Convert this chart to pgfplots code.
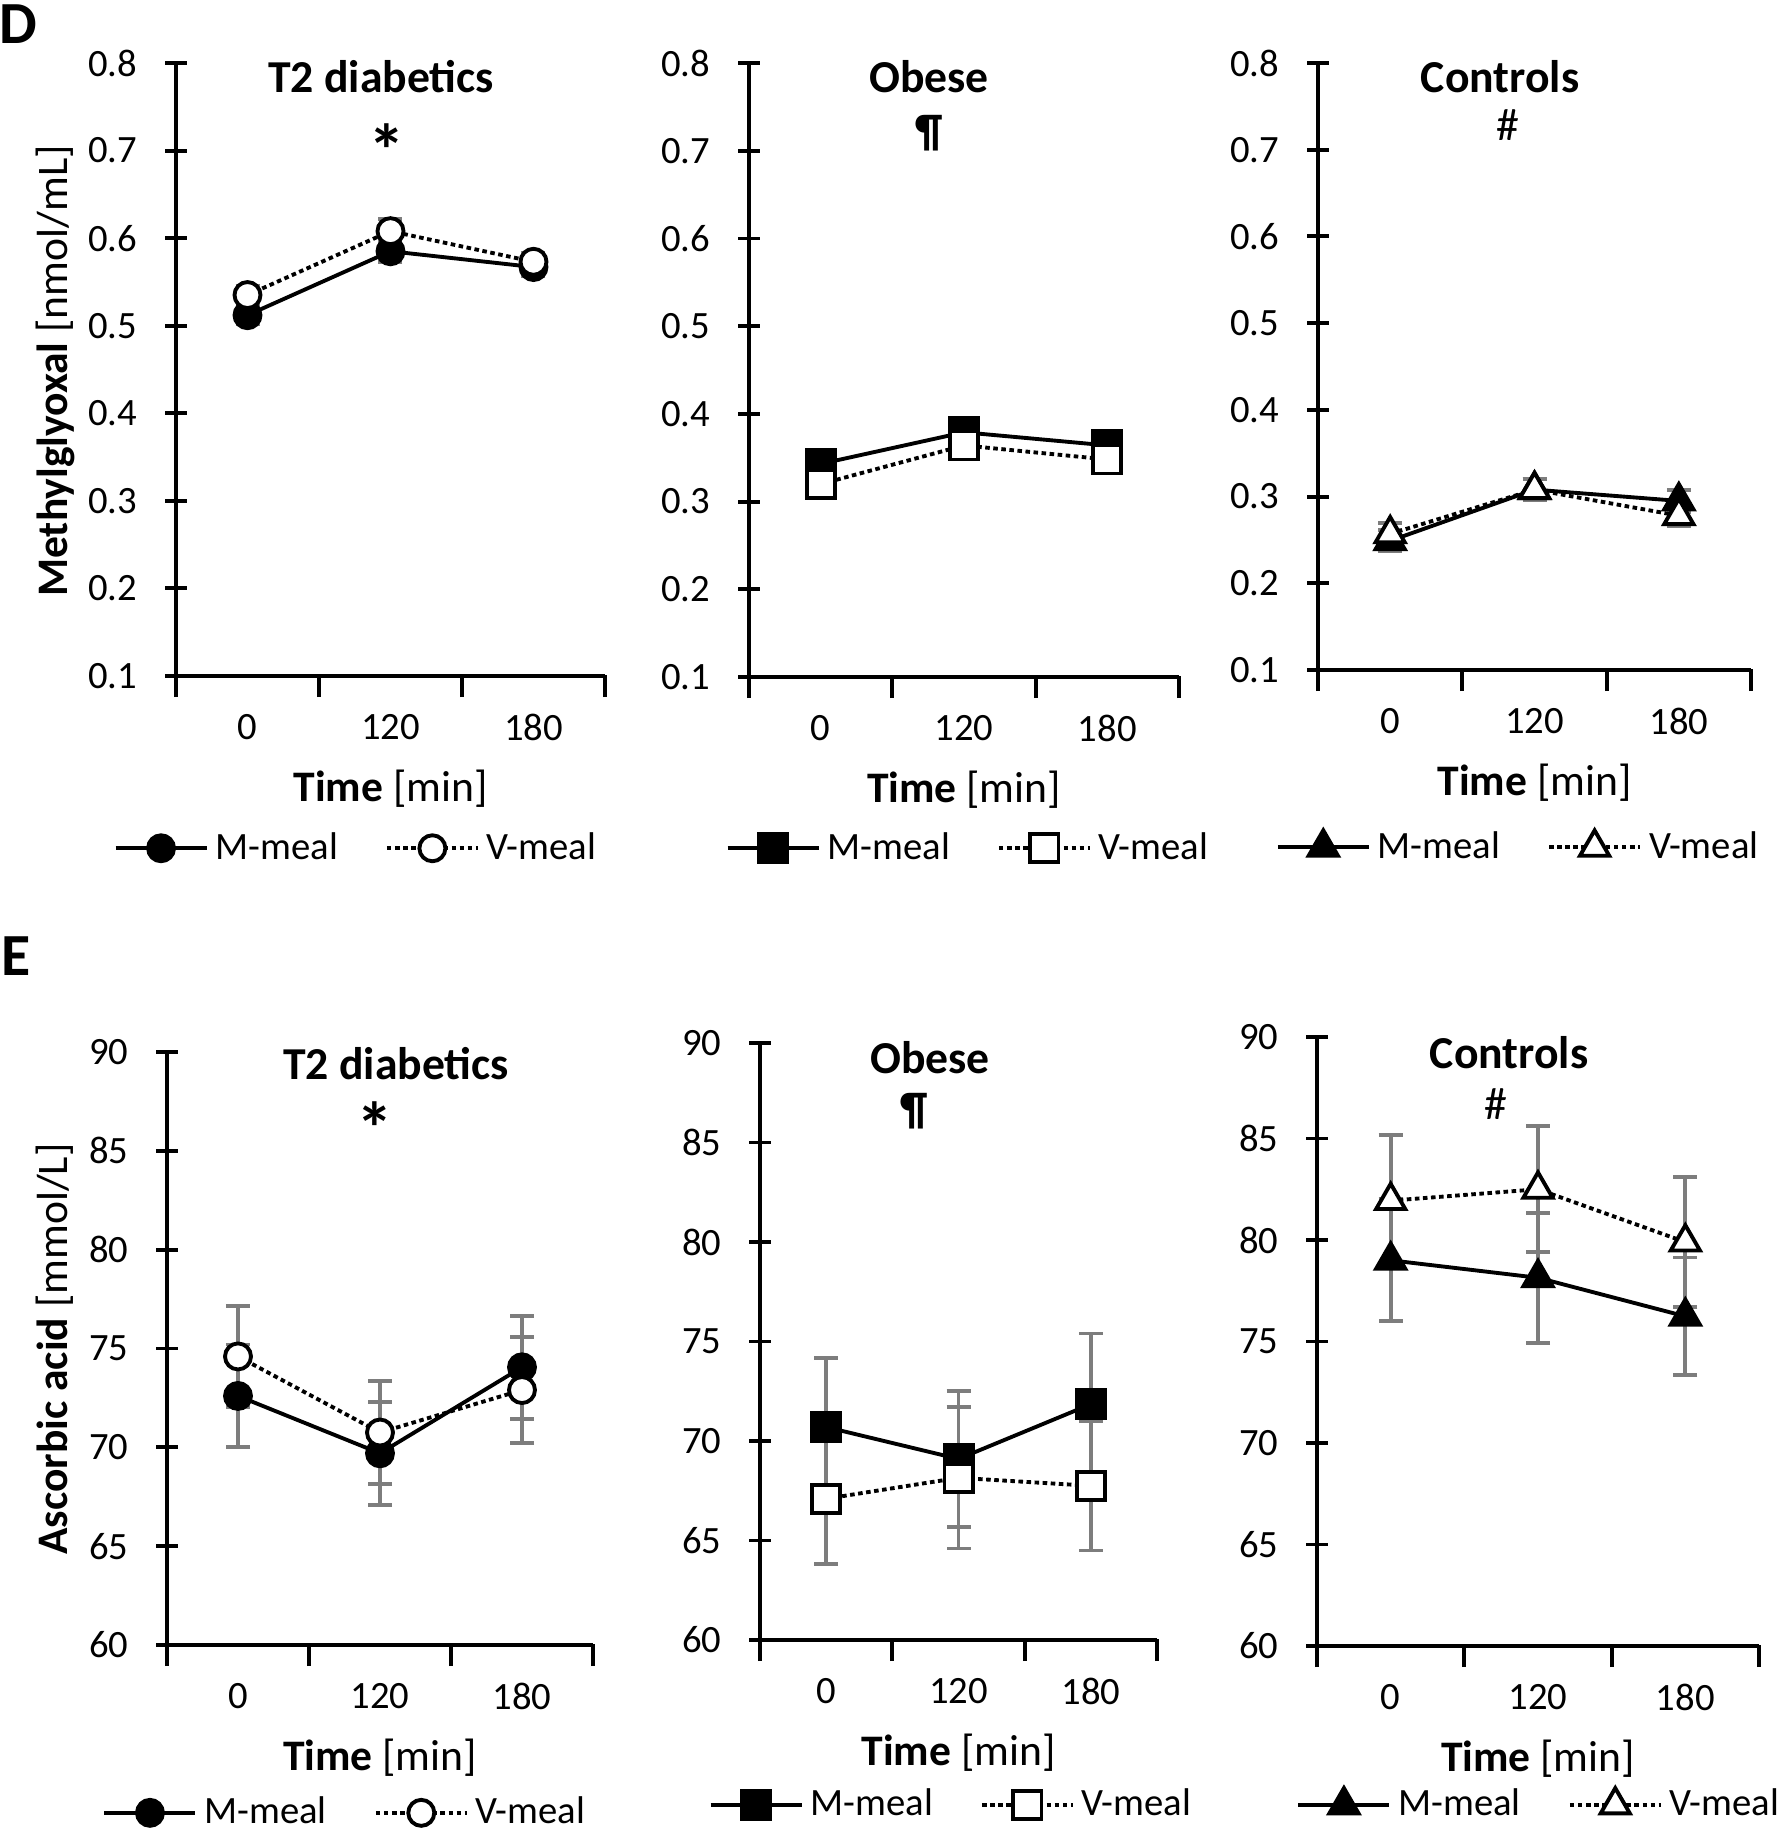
\documentclass[border=0pt]{standalone}
\usepackage{fontspec}
\setmainfont{Carlito}
\usepackage{pgfplots}
\pgfplotsset{compat=1.18}

\definecolor{ebgray}{RGB}{125,125,125}
\newcommand{\tickfont}{\fontsize{11}{13}\selectfont}
\newcommand{\titlefont}{\bfseries\fontsize{13}{15}\selectfont}
\newcommand{\starfont}{\bfseries\fontsize{21}{23}\selectfont}
\newcommand{\labfont}{\fontsize{12.4}{14}\selectfont}

\pgfplotsset{
  panel/.style={
    scale only axis,
    anchor=south west,
    xmin=-0.5, xmax=2.5,
    axis x line=bottom, axis y line=left,
    axis line style={-, line width=1.1pt},
    tick align=center,
    major tick length=2.2mm,
    tick style={black, line width=1.1pt},
    xtick={-0.5,0.5,1.5,2.5},
    xticklabels={},
    xtick style={yshift=-1.0mm},
    extra x ticks={0,1,2},
    extra x tick labels={0,120,180},
    extra x tick style={major tick length=0pt},
    xticklabel style={anchor=center, yshift=-5.1mm},
    yticklabel style={anchor=east, inner sep=0pt, xshift=-2.7mm},
    ticklabel style={font=\tickfont},
    /pgf/number format/assume math mode=true,
    xlabel={\textbf{Time} [min]},
    xlabel style={font=\labfont, at={(axis description cs:0.5,0)}, anchor=center, yshift=-11.3mm},
    clip=false,
    legend columns=2,
    legend cell align=left,
    legend style={draw=none, fill=none, anchor=west, inner sep=0pt, font=\tickfont,
      /tikz/every even column/.append style={column sep=4mm}},
    legend image code/.code={\draw[mark repeat=2,mark phase=2,##1] plot coordinates {(0mm,0mm) (4.55mm,0mm) (9.1mm,0mm)};},
  },
  mgo/.style={ymin=0.1, ymax=0.8, ytick={0.1,0.2,0.3,0.4,0.5,0.6,0.7,0.8},
    yticklabel style={/pgf/number format/.cd, fixed, fixed zerofill, precision=1}},
  asc/.style={ymin=60, ymax=90, ytick={60,65,70,75,80,85,90}},
  ebar/.style={forget plot, only marks, mark=none,
    error bars/.cd, y dir=both, y explicit,
    error bar style={ebgray, line width=1.1pt, solid},
    error mark options={rotate=90, ebgray, line width=1.1pt, mark size=1.2mm}},
  mm/.style={black, line width=1.1pt, solid, mark options={solid, fill=black}},
  vm/.style={black, line width=1.1pt, dash pattern=on 1.3pt off 1pt, mark options={solid, fill=white}},
}

\begin{document}
\begin{tikzpicture}
\useasboundingbox (0,0) rectangle (177.6mm,-183.4mm);

% ---------- D: methylglyoxal ----------
\begin{axis}[panel, mgo, at={(17.6mm,-67.6mm)}, width=42.9mm, height=61.3mm,
  legend style={at={(-0.147,-0.281)}}]
\addplot[ebar] coordinates {(0,0.512) +- (0,0.010) (1,0.585) +- (0,0.012) (2,0.567) +- (0,0.010)};
\addplot[ebar] coordinates {(0,0.535) +- (0,0.010) (1,0.608) +- (0,0.014) (2,0.573) +- (0,0.010)};
\addplot[mm, mark=*, mark size=3.7pt] coordinates {(0,0.512) (1,0.585) (2,0.567)};
\addplot[vm, mark=*, mark size=3.7pt] coordinates {(0,0.535) (1,0.608) (2,0.573)};
\legend{M-meal, V-meal}
\end{axis}

\begin{axis}[panel, mgo, at={(74.9mm,-67.7mm)}, width=43.0mm, height=61.4mm,
  legend style={at={(-0.056,-0.279)}}]
\addplot[ebar] coordinates {(0,0.343) +- (0,0.012) (1,0.379) +- (0,0.015) (2,0.364) +- (0,0.015)};
\addplot[ebar] coordinates {(0,0.320) +- (0,0.012) (1,0.364) +- (0,0.015) (2,0.348) +- (0,0.015)};
\addplot[mm, mark=square*, mark size=4pt] coordinates {(0,0.343) (1,0.379) (2,0.364)};
\addplot[vm, mark=square*, mark size=4pt] coordinates {(0,0.320) (1,0.364) (2,0.348)};
\legend{M-meal, V-meal}
\end{axis}

\begin{axis}[panel, mgo, at={(131.8mm,-67.0mm)}, width=43.3mm, height=60.7mm,
  legend style={at={(-0.099,-0.292)}}]
\addplot[ebar] coordinates {(0,0.249) +- (0,0.012) (1,0.308) +- (0,0.012) (2,0.295) +- (0,0.013)};
\addplot[ebar] coordinates {(0,0.257) +- (0,0.013) (1,0.308) +- (0,0.012) (2,0.278) +- (0,0.012)};
\addplot[mm, mark=triangle*, mark size=4.8pt] coordinates {(0,0.249) (1,0.308) (2,0.295)};
\addplot[vm, mark=triangle*, mark size=4.8pt] coordinates {(0,0.257) (1,0.308) (2,0.278)};
\legend{M-meal, V-meal}
\end{axis}

% ---------- E: ascorbic acid ----------
\begin{axis}[panel, asc, at={(16.7mm,-164.5mm)}, width=42.6mm, height=59.3mm,
  legend style={at={(-0.153,-0.283)}}]
\addplot[ebar] coordinates {(0,72.6) +- (0,2.6) (1,69.7) +- (0,2.6) (2,74.05) +- (0,2.6)};
\addplot[ebar] coordinates {(0,74.6) +- (0,2.55) (1,70.75) +- (0,2.6) (2,72.9) +- (0,2.7)};
\addplot[mm, mark=*, mark size=3.7pt] coordinates {(0,72.6) (1,69.7) (2,74.05)};
\addplot[vm, mark=*, mark size=3.7pt] coordinates {(0,74.6) (1,70.75) (2,72.9)};
\legend{M-meal, V-meal}
\end{axis}

\begin{axis}[panel, asc, at={(76.0mm,-164.0mm)}, width=39.7mm, height=59.7mm,
  legend style={at={(-0.131,-0.276)}}]
\addplot[ebar] coordinates {(0,70.7) +- (0,3.45) (1,69.1) +- (0,3.4) (2,71.85) +- (0,3.55)};
\addplot[ebar] coordinates {(0,67.1) +- (0,3.3) (1,68.15) +- (0,3.55) (2,67.75) +- (0,3.25)};
\addplot[mm, mark=square*, mark size=4pt] coordinates {(0,70.7) (1,69.1) (2,71.85)};
\addplot[vm, mark=square*, mark size=4pt] coordinates {(0,67.1) (1,68.15) (2,67.75)};
\legend{M-meal, V-meal}
\end{axis}

\begin{axis}[panel, asc, at={(131.7mm,-164.6mm)}, width=44.2mm, height=60.9mm,
  legend style={at={(-0.048,-0.261)}}]
\addplot[ebar] coordinates {(0,79.0) +- (0,3.0) (1,78.14) +- (0,3.2) (2,76.24) +- (0,2.9)};
\addplot[ebar] coordinates {(0,81.94) +- (0,3.25) (1,82.5) +- (0,3.1) (2,79.9) +- (0,3.2)};
\addplot[mm, mark=triangle*, mark size=4.8pt] coordinates {(0,79.0) (1,78.14) (2,76.24)};
\addplot[vm, mark=triangle*, mark size=4.8pt] coordinates {(0,81.94) (1,82.5) (2,79.9)};
\legend{M-meal, V-meal}
\end{axis}

% panel letters, titles, y labels
\node[font=\bfseries\fontsize{17}{20}\selectfont] at (1.8mm,-2.4mm) {D};
\node[font=\bfseries\fontsize{17}{20}\selectfont] at (1.6mm,-95.6mm) {E};

\node[font=\titlefont, anchor=base] at (38.1mm,-9.27mm) {T2 diabetics};
\node[font=\starfont] at (38.7mm,-15.0mm) {*};
\node[font=\titlefont, anchor=base] at (92.9mm,-9.27mm) {Obese};
\node[font=\titlefont] at (92.9mm,-13.35mm) {¶};
\node[font=\fontsize{13}{15}\selectfont] at (150.8mm,-12.5mm) {\#};
\node[font=\titlefont, anchor=base] at (150.0mm,-9.27mm) {Controls};

\node[font=\titlefont, anchor=base] at (39.6mm,-107.9mm) {T2 diabetics};
\node[font=\starfont] at (37.5mm,-112.8mm) {*};
\node[font=\titlefont, anchor=base] at (93.0mm,-107.35mm) {Obese};
\node[font=\titlefont] at (91.4mm,-111.1mm) {¶};
\node[font=\titlefont, anchor=base] at (150.9mm,-106.8mm) {Controls};
\node[font=\fontsize{13}{15}\selectfont] at (149.6mm,-110.4mm) {\#};

\node[font=\labfont, rotate=90] at (5.5mm,-37.1mm) {\textbf{Methylglyoxal} [nmol/mL]};
\node[font=\labfont, rotate=90] at (5.5mm,-134.9mm) {\textbf{Ascorbic acid} [mmol/L]};
\end{tikzpicture}
\end{document}
